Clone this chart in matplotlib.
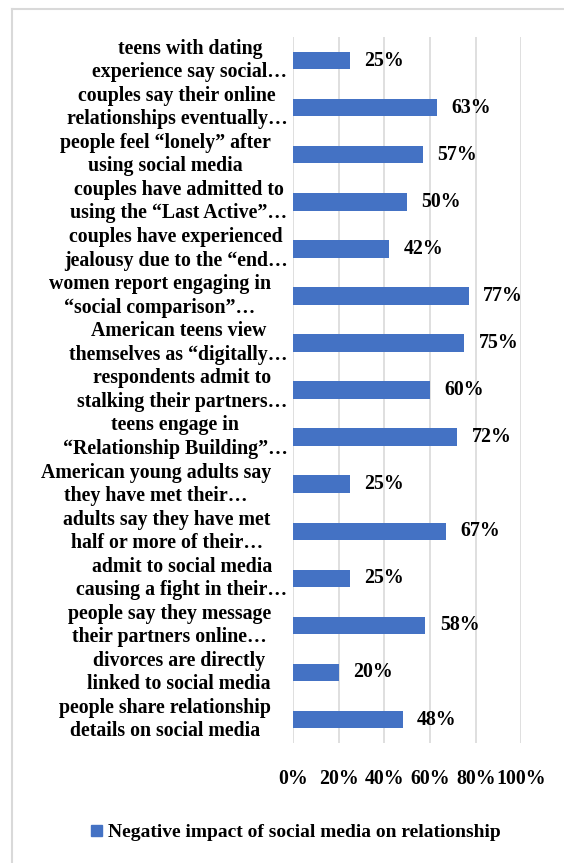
import matplotlib.pyplot as plt
import matplotlib.transforms as mtransforms
from matplotlib.lines import Line2D
from matplotlib.patches import Rectangle
from matplotlib.ticker import FuncFormatter

labels = [
    "teens with dating\nexperience say social…",
    "couples say their online\nrelationships eventually…",
    "people feel “lonely” after\nusing social media",
    "couples have admitted to\nusing the “Last Active”…",
    "couples have experienced\njealousy due to the “end…",
    "women report engaging in\n“social comparison”…",
    "American teens view\nthemselves as “digitally…",
    "respondents admit to\nstalking their partners…",
    "teens engage in\n“Relationship Building”…",
    "American young adults say\nthey have met their…",
    "adults say they have met\nhalf or more of their…",
    "admit to social media\ncausing a fight in their…",
    "people say they message\ntheir partners online…",
    "divorces are directly\nlinked to social media",
    "people share relationship\ndetails on social media",
]
values = [25, 63, 57, 50, 42, 77, 75, 60, 72, 25, 67, 25, 58, 20, 48]
x_ticks = [0, 20, 40, 60, 80, 100]
series_name = "Negative impact of social media on relationship"

plt.rcParams['font.family'] = ['Liberation Serif', 'DejaVu Serif']
plt.rcParams['font.weight'] = 'bold'
bar_color = '#4472C4'
grid_color = '#d9d9d9'
fs = 14.3

fig = plt.figure(figsize=(5.64, 8.63), dpi=100)
ax = fig.add_axes([0.5195, 0.139, 0.405, 0.818])

y_pos = list(range(len(labels)))
ax.barh(y_pos, values, height=0.37, color=bar_color, zorder=3)
for y, v in zip(y_pos, values):
    ax.text(v + 6.3, y, f"{v}%", va='center', ha='left', fontsize=fs, fontweight='bold')

ax.set_xlim(0, 100)
ax.set_ylim(len(labels) - 0.5, -0.5)
ax.set_xticks(x_ticks)
ax.xaxis.set_major_formatter(FuncFormatter(lambda v, p: f"{v:.0f}%"))
ax.set_yticks(y_pos)
ax.set_yticklabels([])
ax.tick_params(axis='y', length=0)
ax.tick_params(axis='x', length=0, pad=19, labelsize=fs)
for lbl in ax.get_xticklabels():
    lbl.set_fontweight('bold')

# category labels: lines centred, block right-aligned to the axis;
# a truncated line (ending in "…") is allowed to run closer to the axis
renderer = fig.canvas.get_renderer()
base = mtransforms.blended_transform_factory(ax.transAxes, ax.transData)
for y, lab in zip(y_pos, labels):
    lines = lab.split("\n")
    widths = []
    for ln in lines:
        t = fig.text(0, 0, ln, fontsize=fs, fontweight='bold')
        widths.append(t.get_window_extent(renderer).width)
        t.remove()
    longest = lines[widths.index(max(widths))]
    shift = -4 / 72 if longest.endswith("…") else -16 / 72
    trans = base + mtransforms.ScaledTranslation(shift, 0, fig.dpi_scale_trans)
    ax.text(0, y, lab, transform=trans, ha='right', va='center',
            multialignment='center', linespacing=1.22, fontsize=fs, fontweight='bold')

ax.grid(axis='x', color=grid_color, linewidth=1.2, zorder=0)
for s in ax.spines.values():
    s.set_visible(False)

handle = Rectangle((0, 0), 1, 1, color=bar_color)
fig.legend([handle], [series_name], loc='center', bbox_to_anchor=(0.525, 0.035),
           frameon=False, handlelength=0.55, handleheight=0.55, handletextpad=0.3,
           prop={'size': 14, 'weight': 'bold'})

# chart-area frame: only its top and left edges fall inside the image
fx, fy = 11.5 / 564, 1 - 9.5 / 863
fig.add_artist(Line2D([fx, 1.0], [fy, fy], transform=fig.transFigure,
                      color=grid_color, linewidth=1.5))
fig.add_artist(Line2D([fx, fx], [0.0, fy], transform=fig.transFigure,
                      color=grid_color, linewidth=1.5))

fig.savefig("out.png", dpi=100)
